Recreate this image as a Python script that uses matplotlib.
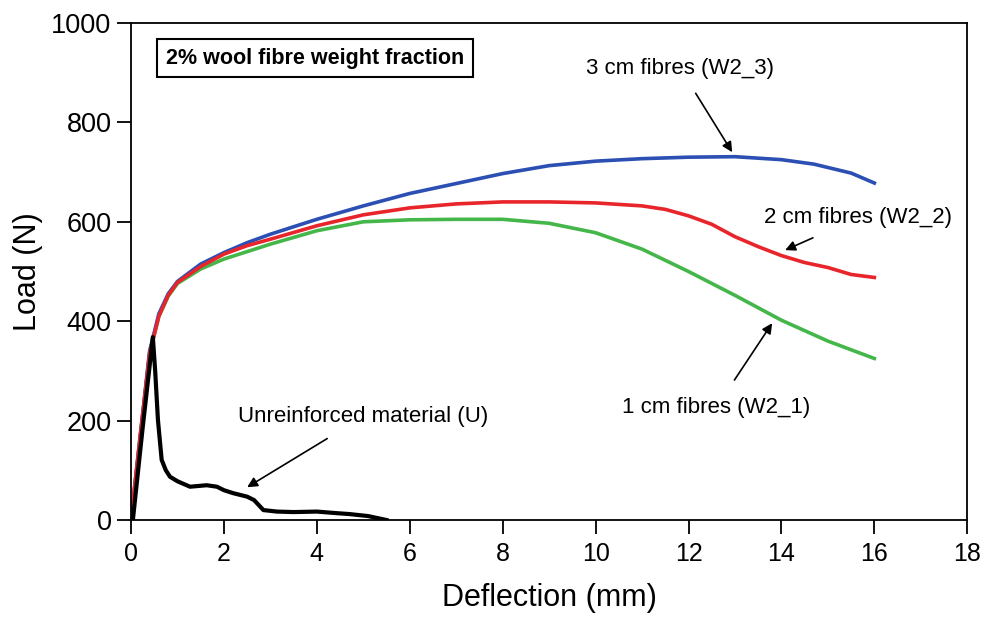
import matplotlib
matplotlib.use("Agg")
from matplotlib import pyplot as plt

plt.rcParams['font.family'] = ['Liberation Sans', 'DejaVu Sans']

# W2_3 (3 cm fibres)
blue_x = [0, 0.2, 0.4, 0.6, 0.8, 1.0, 1.5, 2, 2.5, 3, 4, 5, 6, 7, 8, 9, 10, 11, 12, 13, 14, 14.7, 15.5, 16]
blue_y = [0, 170, 340, 415, 455, 480, 515, 538, 558, 575, 605, 632, 657, 677, 697, 713, 722, 727, 730, 731, 725, 716, 698, 678]

# W2_2 (2 cm fibres)
red_x = [0, 0.2, 0.4, 0.6, 0.8, 1.0, 1.5, 2, 2.5, 3, 4, 5, 6, 7, 8, 9, 10, 11, 11.5, 12, 12.5, 13, 13.5, 14, 14.5, 15, 15.5, 16]
red_y = [0, 170, 335, 410, 452, 478, 510, 535, 552, 565, 592, 614, 628, 636, 640, 640, 638, 632, 625, 612, 595, 570, 550, 532, 518, 508, 494, 488]

# W2_1 (1 cm fibres)
green_x = [0, 0.2, 0.4, 0.6, 0.8, 1.0, 1.5, 2, 2.5, 3, 4, 5, 6, 7, 8, 9, 10, 11, 12, 13, 14, 15, 16]
green_y = [0, 170, 335, 410, 450, 476, 505, 525, 540, 555, 582, 600, 604, 605, 605, 597, 578, 545, 500, 452, 402, 360, 325]

# U (unreinforced)
black_x = [0.04, 0.25, 0.47, 0.52, 0.58, 0.66, 0.75, 0.84, 1.0, 1.27, 1.63, 1.85, 2.0, 2.2, 2.5, 2.65, 2.85, 3.14, 3.5, 4.0, 4.4, 4.7, 5.1, 5.5]
black_y = [0, 185, 368, 300, 201, 121, 100, 87, 78, 67, 70, 67, 60, 54, 47, 40, 20, 17, 16, 17, 14, 12, 8, 0]

x_ticks = [0, 2, 4, 6, 8, 10, 12, 14, 16, 18]
y_ticks = [0, 200, 400, 600, 800, 1000]

fig = plt.figure(figsize=(9.85, 6.21), dpi=100)
ax = fig.add_axes([0.133, 0.1626, 0.849, 0.8004])

ax.plot(green_x, green_y, color="#45b649", lw=2.6)
ax.plot(blue_x, blue_y, color="#2b4fb3", lw=2.6)
ax.plot(red_x, red_y, color="#e8252b", lw=2.6)
ax.plot(black_x, black_y, color="black", lw=3)

ax.set_xlim(0, 18)
ax.set_ylim(0, 1000)
ax.set_xticks(x_ticks)
ax.set_yticks(y_ticks)
ax.tick_params(direction="out", length=10, width=1.3)
ax.tick_params(axis="x", labelsize=18, pad=6)
ax.tick_params(axis="y", labelsize=19.5, pad=4)
for s in ax.spines.values():
    s.set_linewidth(1.3)
ax.set_xlabel("Deflection (mm)", fontsize=22, labelpad=12)
ax.set_ylabel("Load (N)", fontsize=22, labelpad=6)

ax.text(3.96, 929, "2% wool fibre weight fraction", fontsize=15.5, fontweight="bold",
        ha="center", va="center",
        bbox=dict(boxstyle="square,pad=0.4", fc="white", ec="black", lw=1.5))

arrow = dict(arrowstyle="-|>", color="black", lw=1.2, mutation_scale=15)
ax.annotate("Unreinforced material (U)", xy=(2.5, 66), xytext=(5.0, 208),
            fontsize=16, ha="center", va="center", arrowprops=dict(arrow, shrinkA=12, shrinkB=0))
ax.annotate("3 cm fibres (W2_3)", xy=(12.94, 740), xytext=(11.82, 909),
            fontsize=16, ha="center", va="center", arrowprops=dict(arrow, shrinkA=10, shrinkB=0))
ax.annotate("2 cm fibres (W2_2)", xy=(14.08, 543), xytext=(15.65, 608),
            fontsize=16, ha="center", va="center", arrowprops=dict(arrow, shrinkA=12, shrinkB=0))
ax.annotate("1 cm fibres (W2_1)", xy=(13.8, 396), xytext=(12.6, 227),
            fontsize=16, ha="center", va="center", arrowprops=dict(arrow, shrinkA=12, shrinkB=0))

fig.savefig("out.png", dpi=100)
